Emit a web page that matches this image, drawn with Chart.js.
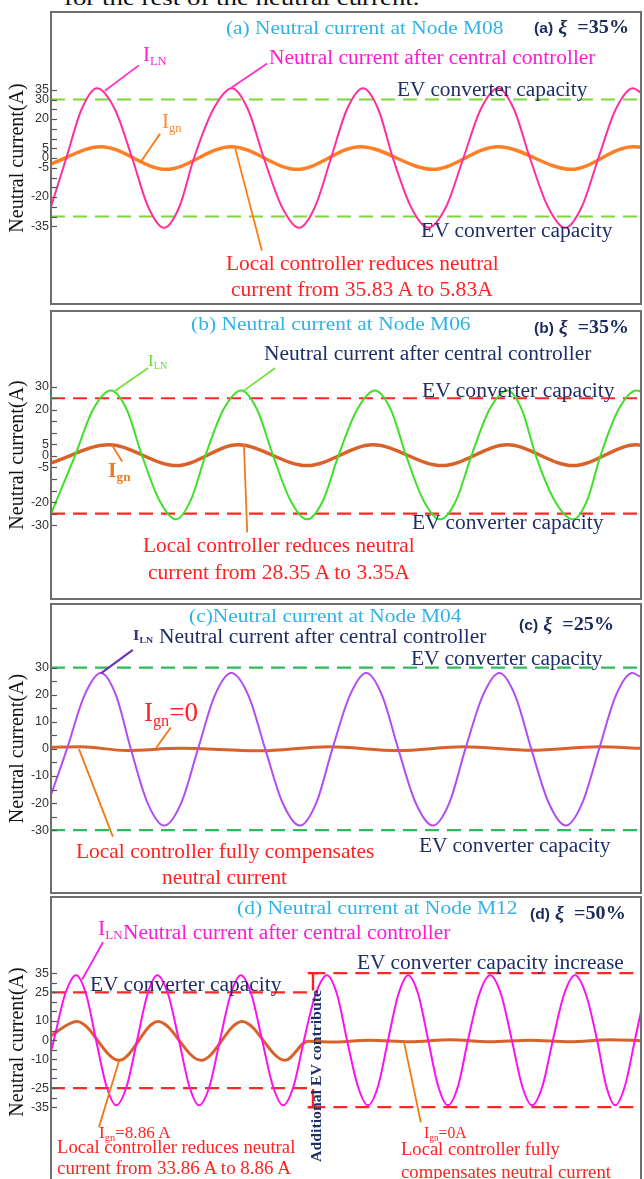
<!DOCTYPE html>
<html>
<head>
<meta charset="utf-8">
<script src="https://cdn.jsdelivr.net/npm/chart.js@4.4.0/dist/chart.umd.min.js"></script>
<style>
body { margin: 0; background: #fff; }
#page { position: relative; width: 644px; height: 1179px; overflow: hidden; background: #fff; }
.panel { position: absolute; left: 0; width: 644px; }
.frame { position: absolute; left: 50px; width: 592px; border: 2px solid #6e6e6e; box-sizing: border-box; pointer-events: none; }
.note { position: absolute; white-space: nowrap; font-family: "Liberation Serif", serif; line-height: 1; transform-origin: 0 50%; }
.note sub { font-size: 60%; position: relative; top: 0.3em; vertical-align: baseline; line-height: 0; }
</style>
</head>
<body>
<div id="page">
  <div class="note" id="toptext" style="left:64px;top:-2px;font-size:22px;color:#111">for the rest of the neutral current.</div>
  <div class="panel" style="top:12px;height:292px"><canvas id="chartA"></canvas></div>
  <div class="panel" style="top:311px;height:288px"><canvas id="chartB"></canvas></div>
  <div class="panel" style="top:604px;height:289px"><canvas id="chartC"></canvas></div>
  <div class="panel" style="top:897px;height:290px"><canvas id="chartD"></canvas></div>
  <div class="frame" style="top:11px;height:294px"></div>
  <div class="frame" style="top:310px;height:290px"></div>
  <div class="frame" style="top:603px;height:291px"></div>
  <div class="frame" style="top:896px;height:300px"></div>
</div>
<script>
// time in ms, current in A

// (a) Node M08
var tIlnA = [0, 2.3, 4.6, 6.9, 9.6, 12.2, 14.6, 17.0, 19.3, 21.5, 24.4, 27.2, 29.6, 32.0, 34.7, 37.3, 39.7, 42.1, 44.5, 46.9,
             49.2, 51.4, 54.1, 56.7, 59.4, 62.0, 64.6, 67.2, 69.6, 72.0, 74.7, 77.3, 79.8, 82.3, 84.9, 87.5, 88.7];
var ilnA = [-25, 0, 25, 35.8, 25, 0, -25, -35.8, -25, 0, 25, 35.8, 25, 0, -25, -35.8, -25, 0, 25, 35.8,
            25, 0, -25, -35.8, -25, 0, 25, 35.8, 25, 0, -25, -35.8, -25, 0, 25, 35.8, 33.5];
var tIgnA = [0, 7.5, 17.3, 27.1, 37.0, 46.5, 57.4, 67.2, 78.2, 87.5, 88.7];
var ignA = [-3, 5.8, -5.8, 5.8, -5.8, 5.8, -5.8, 5.8, -5.8, 5.8, 5.5];
var capA = [30, -30];
var ticksA = [35, 30, 20, 5, 0, -5, -20, -35];

// (b) Node M06
var tIlnB = [0, 3.6, 6.3, 9.0, 11.4, 13.7, 16.3, 18.8, 21.0, 23.2, 25.9, 28.6, 31.0, 33.4, 36.0, 38.5, 40.9, 43.2, 46.0, 48.7,
             51.1, 53.4, 56.0, 58.5, 60.9, 63.2, 65.9, 68.6, 70.8, 72.9, 75.7, 78.5, 80.6, 82.6, 85.3, 88.0, 88.7];
var ilnB = [-25, 0, 20, 28.4, 20, 0, -19.3, -27.5, -19.3, 0, 20, 28.4, 20, 0, -19.3, -27.5, -19.3, 0, 20, 28.4,
            20, 0, -19.3, -27.5, -19.3, 0, 20, 28.4, 20, 0, -19.3, -27.5, -19.3, 0, 20, 28.4, 28.0];
var tIgnB = [0, 8.7, 18.9, 28.1, 38.5, 48.4, 58.8, 68.6, 78.5, 88.0, 88.7];
var ignB = [-3, 4.8, -4.2, 4.8, -4.2, 4.8, -4.2, 4.8, -4.2, 4.8, 4.6];
var capB = [25, -25];
var ticksB = [30, 20, 5, 0, -5, -20, -30];

// (c) Node M04
var tIlnC = [0, 2.4, 5.0, 7.5, 9.8, 12.0, 14.5, 17.0, 19.6, 22.1, 24.6, 27.1, 29.7, 32.2, 34.8, 37.4, 39.9, 42.3, 44.9, 47.4,
             49.8, 52.2, 54.8, 57.4, 59.9, 62.3, 64.9, 67.4, 69.8, 72.2, 74.8, 77.4, 79.9, 82.4, 84.9, 87.4, 88.7];
var ilnC = [-17, 0, 19.6, 28, 19.6, 0, -19.8, -28.3, -19.8, 0, 19.6, 28, 19.6, 0, -19.8, -28.3, -19.8, 0, 19.6, 28,
            19.6, 0, -19.8, -28.3, -19.8, 0, 19.6, 28, 19.6, 0, -19.8, -28.3, -19.8, 0, 19.6, 28, 26.5];
var tIgnC = [0, 4.4, 11.4, 19.4, 31.3, 41.8, 52.2, 62.0, 72.3, 82.3, 88.7];
var ignC = [0.6, 0.8, -0.6, 0.2, -0.7, 0.8, -0.6, 0.8, -0.5, 0.8, 0.2];
var capC = [30, -30];
var ticksC = [30, 20, 10, 0, -10, -20, -30];

// (d) Node M12
var tIlnD = [0, 0.7,
             3.4, 6.1, 8.6, 11.0, 13.5, 15.9, 18.5, 21.0,
             23.5, 25.9, 28.6, 31.2, 33.7, 36.1, 38.7, 41.2,
             43.8, 46.3, 48.9, 51.5, 54.1, 56.6, 59.2, 61.7,
             64.5, 67.3, 69.8, 72.2, 74.8, 77.3, 79.8, 82.2,
             84.7, 87.1, 89.6, 92.0, 94.4, 96.8, 99.3, 101.7,
             104.4, 107.1, 109.8, 112.4, 114.9, 117.3, 119.9, 122.4,
             125.1, 127.8, 130.5, 133.2, 135.4, 137.6, 140.0, 142.4,
             143.9];
var ilnD = [-6, 0,
            23.7, 33.9, 23.7, 0, -23.8, -34, -23.8, 0,
            23.7, 33.9, 23.7, 0, -23.8, -34, -23.8, 0,
            23.7, 33.9, 23.7, 0, -23.8, -34, -23.8, 0,
            23.7, 33.9, 23.7, 0, -23.8, -34, -23.8, 0,
            23.7, 33.9, 23.7, 0, -23.8, -34, -23.8, 0,
            23.7, 33.9, 23.7, 0, -23.8, -34, -23.8, 0,
            23.7, 33.9, 23.7, 0, -23.8, -34, -23.8, 0,
            15];
var tIgnD = [0, 6.3, 16.6, 26.1, 36.6, 46.6, 57.1, 62.7, 68.0, 77.8, 87.6, 97.3, 107.1, 116.8, 126.6, 136.3, 143.9];
var ignD = [2.4, 9.8, -10.5, 9.8, -10.5, 9.8, -10.5, -0.5, -1, 0, -0.8, 0.2, -0.8, 0, -0.8, 0.2, -0.3];
var capD = [25, -25];        // before the EV contribution
var capDUp = [35, -35];      // after the increase
var tSwitchD = 63.5;
var ticksD = [35, 25, 10, 0, -10, -25, -35];

// leader lines [t0, v0, t1, v1]
var leadA = [[13.2, 47.5, 8.1, 34.5], [32.5, 48.4, 27.1, 36.0]];
var leadIgnA = [[16.4, 12.5, 13.4, -2.4], [27.7, 4.8, 31.7, -47.5]];
var leadB = [[14.6, 38.1, 9.5, 27.9], [33.7, 38.1, 29.0, 28.3]];
var leadIgnB = [[10.7, -2.4, 9.2, 4.5], [29.0, 5.3, 29.5, -33.2]];
var leadC = [[12.3, 36.6, 7.5, 27.9]];
var leadIgnC = [[18.0, 7.9, 15.8, 0.3], [4.2, 0, 9.3, -32.4]];
var leadD = [[12.7, 51.2, 7.6, 31.7]];
var leadIgnD = [[16.6, -10.7, 11.7, -45.4], [86.1, -1.0, 90.2, -42.9]];
var barD = [[63.9, 35, 63.9, 26], [62.6, 35, 65.2, 35], [63.9, -25.5, 63.9, -35], [62.6, -35, 65.2, -35]];

function pts(ts, vs) {
    return ts.map(function(t, i) { return { x: t, y: vs[i] }; });
}

function curve(ts, vs, color, width, order) {
    return { data: pts(ts, vs), borderColor: color, borderWidth: width, pointRadius: 0,
             cubicInterpolationMode: 'monotone', fill: false, order: order };
}

function hline(t0, t1, v, color) {
    return { data: [{ x: t0, y: v }, { x: t1, y: v }], borderColor: color, borderWidth: 2.2,
             borderDash: [14, 8], pointRadius: 0, fill: false, order: 5 };
}

function leaders(list, color, width) {
    return list.map(function(l) {
        return { data: [{ x: l[0], y: l[1] }, { x: l[2], y: l[3] }], borderColor: color,
                 borderWidth: width || 1.8, pointRadius: 0, fill: false, order: 0 };
    });
}

// small inward ticks every 5 A along the y axis
var inTicks = {
    id: 'inTicks',
    afterDatasetsDraw: function(chart, args, opts) {
        var s = chart.scales.y, ctx = chart.ctx;
        ctx.save();
        ctx.strokeStyle = '#555';
        ctx.lineWidth = 1.2;
        for (var v = -opts.lim; v <= opts.lim; v += 5) {
            var y = Math.round(s.getPixelForValue(v)) + 0.5;
            ctx.beginPath();
            ctx.moveTo(s.right, y);
            ctx.lineTo(s.right + 6, y);
            ctx.stroke();
        }
        ctx.restore();
    }
};

function makeChart(id, xMax, yMin, yMax, labels, lim, datasets) {
    var ctx = document.getElementById(id).getContext('2d');
    return new Chart(ctx, {
        type: 'line',
        data: { datasets: datasets },
        plugins: [inTicks],
        options: {
            responsive: true,
            maintainAspectRatio: false,
            animation: false,
            layout: { padding: { left: 0, right: 3, top: 0, bottom: 0 } },
            plugins: { legend: { display: false }, tooltip: { enabled: false }, inTicks: { lim: lim } },
            scales: {
                x: { type: 'linear', min: 0, max: xMax, display: false },
                y: {
                    type: 'linear', min: yMin, max: yMax,
                    afterBuildTicks: function(s) { s.ticks = labels.map(function(v) { return { value: v }; }); },
                    afterFit: function(s) { s.width = 51; },
                    grid: { display: false, drawTicks: false, tickLength: 0 },
                    border: { display: true, color: '#555', width: 1.5 },
                    ticks: { autoSkip: false, padding: 2, color: '#333',
                             font: { family: 'Liberation Sans', size: 12.5 } },
                    title: { display: true, text: 'Neutral current(A)', color: '#111',
                             font: { family: 'Liberation Serif', size: 20 }, padding: { top: 6, bottom: 0 } }
                }
            }
        }
    });
}

var orangeA = '#ff7f27', brown = '#d9622b';

makeChart('chartA', 88.7, -70, 70, ticksA, 35, [
    curve(tIlnA, ilnA, '#ff2fa0', 2, 1),
    curve(tIgnA, ignA, orangeA, 3.5, 2),
    hline(0, 88.7, capA[0], '#7ed63a'), hline(0, 88.7, capA[1], '#7ed63a')
].concat(leaders(leadA, '#ff2fd0'), leaders(leadIgnA, '#ff7a10')));

makeChart('chartB', 88.7, -57.9, 58.7, ticksB, 30, [
    curve(tIlnB, ilnB, '#40e02a', 2, 1),
    curve(tIgnB, ignB, brown, 3.5, 2),
    hline(0, 88.7, capB[0], '#ff2626'), hline(0, 88.7, capB[1], '#ff2626')
].concat(leaders(leadB, '#77e040'), leaders(leadIgnB, '#f07a20')));

makeChart('chartC', 88.7, -49.7, 50, ticksC, 30, [
    curve(tIlnC, ilnC, '#b44cf0', 2, 1),
    curve(tIgnC, ignC, brown, 3, 2),
    hline(0, 88.7, capC[0], '#2fba5c'), hline(0, 88.7, capC[1], '#2fba5c')
].concat(leaders(leadC, '#6a34b8', 2.2), leaders(leadIgnC, '#f07a10')));

makeChart('chartD', 143.9, -71.7, 69.8, ticksD, 35, [
    curve(tIlnD, ilnD, '#ff10ee', 2, 1),
    curve(tIgnD, ignD, brown, 3, 2),
    hline(0, tSwitchD - 0.3, capD[0], '#ff2626'), hline(0, tSwitchD - 0.3, capD[1], '#ff2626'),
    hline(tSwitchD, 143.9, capDUp[0], '#ff2626'), hline(tSwitchD, 143.9, capDUp[1], '#ff2626')
].concat(leaders(leadD, '#ff10ee'), leaders(leadIgnD, '#f07a10'), leaders(barD, '#ff2020', 2.4)));

// text notes: [html, left, centre y, font size, colour, target width, extra css]
var xi = function(p, v) {
    return '<span style="font-family:\'Liberation Sans\';font-size:0.78em">(' + p + ')</span> <i>&xi;</i>&nbsp; =' + v + '%';
};
var navy = '#1f2f66', cyan = '#2fb2e6', red = '#ff2222', mag = '#ff1ad6';
var notes = [
    ['(a) Neutral current at Node M08', 226, 27, 19, cyan, 277],
    [xi('a', 35), 534, 27, 18, '#1b2a5c', 95, 'font-weight:bold'],
    ['I<sub>LN</sub>', 143, 54, 20, mag, 24],
    ['Neutral current after central controller', 269, 57, 20, mag, 326],
    ['EV converter capacity', 397, 89, 20, navy, 190],
    ['I<sub>gn</sub>', 162, 121, 20, '#ff8a30', 20],
    ['EV converter capacity', 421, 230, 20, navy, 191],
    ['Local controller reduces neutral', 226, 263, 21, red, 273],
    ['current from 35.83 A to 5.83A', 231, 289, 21, red, 262],

    ['(b) Neutral current at Node M06', 191, 323, 19, cyan, 279],
    [xi('b', 35), 534, 327, 18, '#1b2a5c', 95, 'font-weight:bold'],
    ['I<sub>LN</sub>', 148, 360, 17, '#66dd33', 19],
    ['Neutral current after central controller', 264, 353, 20, navy, 327],
    ['EV converter capacity', 422, 390, 20, navy, 192],
    ['I<sub>gn</sub>', 108, 470, 20, '#f07a20', 22, 'font-weight:bold'],
    ['EV converter capacity', 412, 522, 20, navy, 191],
    ['Local controller reduces neutral', 143, 545, 21, red, 272],
    ['current from 28.35 A to 3.35A', 148, 572, 21, red, 262],

    ['(c)Neutral current at Node M04', 189, 615, 19, cyan, 273],
    [xi('c', 25), 519, 624, 18, '#1b2a5c', 95, 'font-weight:bold'],
    ['I<sub>LN</sub>', 133, 636, 14, '#3a2f80', 20, 'font-weight:bold'],
    ['Neutral current after central controller', 159, 636, 20, navy, 327],
    ['EV converter capacity', 411, 658, 20, navy, 191],
    ['I<sub>gn</sub>=0', 144, 712, 27, red, 54],
    ['EV converter capacity', 419, 845, 20, navy, 191],
    ['Local controller fully compensates', 76, 851, 21, red, 298],
    ['neutral current', 162, 877, 21, red, 125],

    ['(d) Neutral current at Node M12', 237, 907, 19, cyan, 280],
    [xi('d', 50), 530, 913, 18, '#1b2a5c', 96, 'font-weight:bold'],
    ['I<sub>LN</sub>', 98, 928, 20, mag, 25],
    ['Neutral current after central controller', 123, 932, 20, mag, 327],
    ['EV converter capacity', 90, 984, 20, navy, 191],
    ['EV converter capacity increase', 357, 962, 20, navy, 267],
    ['I<sub>gn</sub>=8.86 A', 99, 1133, 16, red, 72],
    ['Local controller reduces neutral', 57, 1147, 18, red, 238],
    ['current from 33.86 A to 8.86 A', 57, 1168, 18, red, 234],
    ['I<sub>gn</sub>=0A', 424, 1133, 16, red, 43],
    ['Local controller fully', 401, 1149, 18, red, 159],
    ['compensates neutral current', 401, 1172, 18, red, 210]
];

var page = document.getElementById('page');
notes.forEach(function(n) {
    var d = document.createElement('div');
    d.className = 'note';
    d.innerHTML = n[0];
    d.style.left = n[1] + 'px';
    d.style.top = n[2] + 'px';
    d.style.fontSize = n[3] + 'px';
    d.style.color = n[4];
    if (n[6]) d.style.cssText += ';' + n[6];
    page.appendChild(d);
    var s = n[5] / d.offsetWidth;
    d.style.transform = 'translateY(-50%) scaleX(' + s.toFixed(3) + ')';
});

// rotated label beside the capacity bar
var v = document.createElement('div');
v.className = 'note';
v.textContent = 'Additional EV contribute';
v.style.cssText += ';left:316px;top:1076px;font-size:15px;font-weight:bold;color:#1f2f66;transform-origin:50% 50%';
page.appendChild(v);
var vs = 172 / v.offsetWidth;
v.style.transform = 'translate(-50%,-50%) rotate(-90deg) scaleX(' + vs.toFixed(3) + ')';

var tt = document.getElementById('toptext');
tt.style.transform = 'translateY(-50%) scaleX(' + (355 / tt.offsetWidth).toFixed(3) + ')';
</script>
</body>
</html>
